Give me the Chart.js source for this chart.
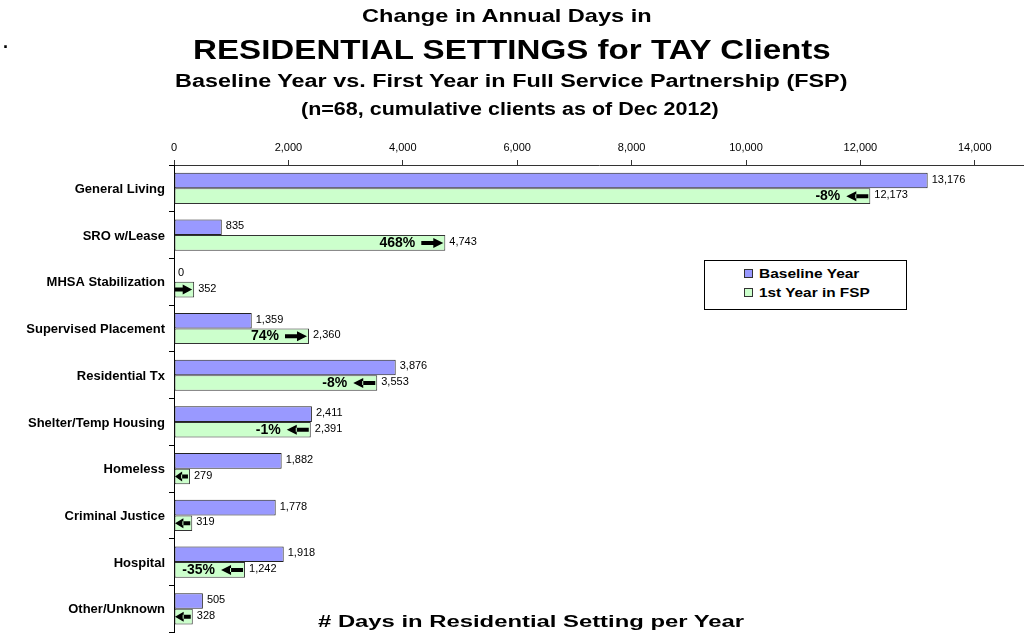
<!DOCTYPE html>
<html>
<head>
<meta charset="utf-8">
<script src="https://cdn.jsdelivr.net/npm/chart.js@4.4.0/dist/chart.umd.min.js"></script>
<style>
html, body { margin: 0; padding: 0; background: #fff; overflow: hidden; }
#wrap { position: relative; width: 1024px; height: 637px; overflow: hidden; font-family: Arial, "Liberation Sans", sans-serif; color: #000; }
#graphe { position: absolute; left: 0; top: 0; }
.ttl { position: absolute; font-weight: bold; white-space: nowrap; transform-origin: 0 0; }
#legende { position: absolute; left: 704px; top: 260px; width: 201px; height: 48px; border: 1px solid #000; background: #fff; }
#legende .mk { position: absolute; left: 39px; width: 7px; height: 7px; border: 1px solid #333; }
</style>
</head>
<body>
<div id="wrap">
  <canvas id="graphe" width="1024" height="644"></canvas>
  <div class="ttl" id="dot" style="left:3px;top:33px;font-size:18px;line-height:18px;">.</div>
  <div class="ttl fit" data-w="290" data-cx="507" data-cy="15" style="font-size:19px;line-height:19px;">Change in Annual Days in</div>
  <div class="ttl fit" data-w="638" data-cx="512" data-cy="50" style="font-size:28px;line-height:28px;">RESIDENTIAL SETTINGS for TAY Clients</div>
  <div class="ttl fit" data-w="673" data-cx="511" data-cy="81" style="font-size:18px;line-height:18px;">Baseline Year vs. First Year in Full Service Partnership (FSP)</div>
  <div class="ttl fit" data-w="418" data-cx="510" data-cy="109" style="font-size:18px;line-height:18px;">(n=68, cumulative clients as of Dec 2012)</div>
  <div class="ttl fit" data-w="426" data-cx="531" data-cy="622" style="font-size:16px;line-height:16px;"># Days in Residential Setting per Year</div>
  <div id="legende">
    <div class="mk" style="top:8px;background:#9999FF;"></div>
    <div class="ttl fit" data-w="100" data-lx="54" data-cy="12" style="font-size:13px;line-height:13px;">Baseline Year</div>
    <div class="mk" style="top:27px;background:#CCFFCC;"></div>
    <div class="ttl fit" data-w="111" data-lx="54" data-cy="31" style="font-size:13px;line-height:13px;">1st Year in FSP</div>
  </div>
</div>
<script>
// Données du graphe
var S_categories = ['General Living', 'SRO w/Lease', 'MHSA Stabilization', 'Supervised Placement', 'Residential Tx',
    'Shelter/Temp Housing', 'Homeless', 'Criminal Justice', 'Hospital', 'Other/Unknown'];
var V_baseline = [13176, 835, 0, 1359, 3876, 2411, 1882, 1778, 1918, 505];
var V_fsp = [12173, 4743, 352, 2360, 3553, 2391, 279, 319, 1242, 328];
var S_pct = ['-8%', '468%', '', '74%', '-8%', '-1%', '', '', '-35%', ''];
var V_xTicks = [0, 2000, 4000, 6000, 8000, 10000, 12000, 14000];

var S_font = 'Arial, "Liberation Sans", sans-serif';

function F_fmt(I_n){
    return String(I_n).replace(/\B(?=(\d{3})+(?!\d))/g, ',');
}

// Ajuster la largeur des textes
var O_fits = document.querySelectorAll('.fit');
for (var I_i = 0; I_i < O_fits.length; I_i++) {
    var O_el = O_fits[I_i];
    var I_w = O_el.offsetWidth, I_h = O_el.offsetHeight;
    var F_k = Number(O_el.dataset.w) / I_w;
    var I_left = O_el.dataset.lx !== undefined ? Number(O_el.dataset.lx) : Number(O_el.dataset.cx) - I_w * F_k / 2;
    O_el.style.left = I_left + 'px';
    O_el.style.top = (Number(O_el.dataset.cy) - I_h / 2) + 'px';
    O_el.style.transform = 'scaleX(' + F_k + ')';
}

function F_drawArrow(ctx, I_xl, I_xr, I_y, B_right){
    var I_head = Math.min(10, (I_xr - I_xl) * 0.55);
    ctx.beginPath();
    if (B_right) {
        ctx.rect(I_xl, I_y - 2, I_xr - I_xl - I_head + 1, 4);
        ctx.moveTo(I_xr - I_head, I_y - 5);
        ctx.lineTo(I_xr, I_y);
        ctx.lineTo(I_xr - I_head, I_y + 5);
    } else {
        ctx.rect(I_xl + I_head - 1, I_y - 2, I_xr - I_xl - I_head + 1, 4);
        ctx.moveTo(I_xl + I_head, I_y - 5);
        ctx.lineTo(I_xl, I_y);
        ctx.lineTo(I_xl + I_head, I_y + 5);
    }
    ctx.closePath();
    ctx.fill();
}

// Etiquettes, pourcentages et flèches
var O_labelsPlugin = {
    id: 'barLabels',
    afterDatasetsDraw: function(chart){
        var ctx = chart.ctx;
        ctx.save();
        ctx.fillStyle = '#000';
        ctx.textBaseline = 'middle';
        ctx.textAlign = 'left';
        ctx.font = '11px ' + S_font;
        chart.data.datasets.forEach(function(O_ds, I_d){
            chart.getDatasetMeta(I_d).data.forEach(function(O_bar, I_j){
                ctx.fillText(F_fmt(O_ds.data[I_j]), O_bar.x + 4, O_bar.y - 1);
            });
        });

        var I_x0 = chart.scales.x.getPixelForValue(0);
        ctx.font = 'bold 14px ' + S_font;
        ctx.textAlign = 'right';
        chart.getDatasetMeta(1).data.forEach(function(O_bar, I_j){
            var B_up = V_fsp[I_j] > V_baseline[I_j];
            var I_len = Math.min(22, O_bar.x - I_x0 - 3);
            var I_xr = O_bar.x - 2, I_xl = I_xr - I_len;
            F_drawArrow(ctx, I_xl, I_xr, O_bar.y, B_up);
            if (S_pct[I_j]) {
                ctx.fillText(S_pct[I_j], I_xl - 6, O_bar.y);
            }
        });
        ctx.restore();
    }
};

var O_ctx = document.getElementById('graphe').getContext('2d');
var O_graphe = new Chart(O_ctx, {
    type: 'bar',
    data: {
        labels: S_categories,
        datasets: [
            {
                label: 'Baseline Year',
                data: V_baseline,
                backgroundColor: '#9999FF',
                borderColor: '#222',
                borderWidth: 1,
                borderSkipped: false,
                categoryPercentage: 0.668,
                barPercentage: 1.0
            },
            {
                label: '1st Year in FSP',
                data: V_fsp,
                backgroundColor: '#CCFFCC',
                borderColor: '#333',
                borderWidth: 1,
                borderSkipped: false,
                categoryPercentage: 0.668,
                barPercentage: 1.0
            }
        ]
    },
    options: {
        indexAxis: 'y',
        responsive: false,
        animation: false,
        layout: { padding: 0 },
        plugins: {
            legend: { display: false },
            title: { display: false },
            tooltip: { enabled: false }
        },
        scales: {
            x: {
                type: 'linear',
                position: 'top',
                min: 0,
                max: 14860,
                afterBuildTicks: function(scale){
                    scale.ticks = V_xTicks.map(function(v){ return { value: v }; });
                },
                afterFit: function(scale){ scale.height = 165; },
                grid: { drawOnChartArea: false, tickLength: 5, color: '#333' },
                border: { color: '#333', width: 1 },
                ticks: {
                    color: '#000',
                    padding: 5,
                    maxRotation: 0,
                    font: { family: S_font, size: 11 },
                    callback: function(v){ return F_fmt(v); }
                }
            },
            y: {
                afterFit: function(scale){ scale.width = 174; },
                grid: { drawOnChartArea: false, tickLength: 5, color: '#000' },
                border: { color: '#000', width: 1 },
                ticks: {
                    color: '#000',
                    padding: 4,
                    labelOffset: 1,
                    font: { family: S_font, size: 13, weight: 'bold' }
                }
            }
        }
    },
    plugins: [O_labelsPlugin]
});
</script>
</body>
</html>
